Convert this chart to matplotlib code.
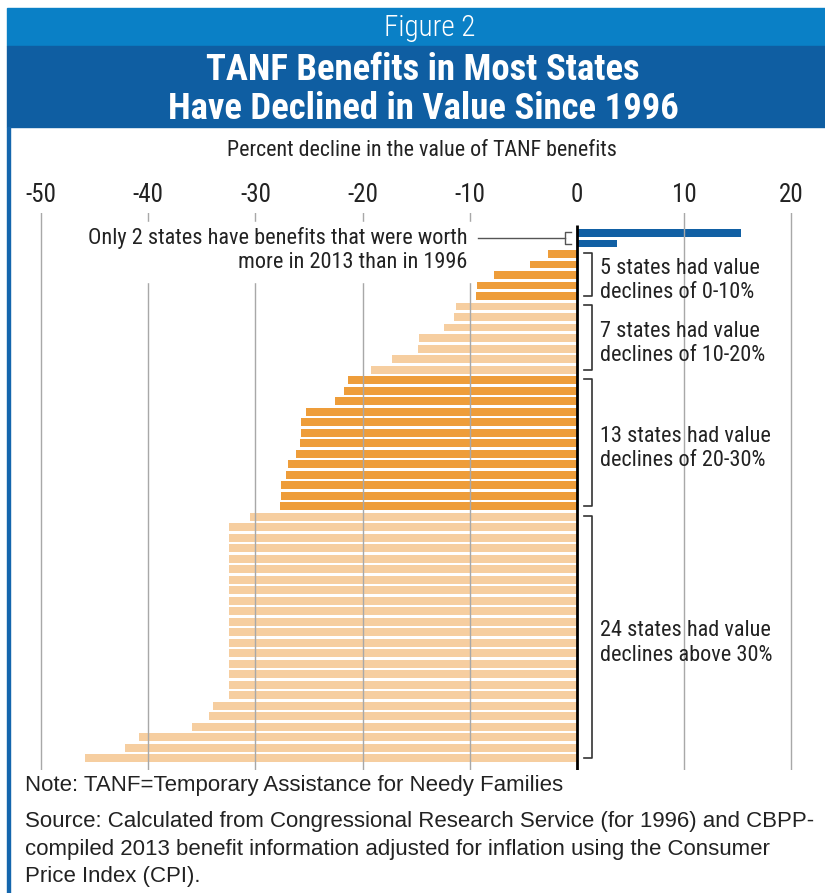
import matplotlib.pyplot as plt
from matplotlib import font_manager
from matplotlib.patches import Rectangle

# percent change in value of TANF benefits, 1996-2013 (one bar per state, sorted)
gains = [15.3, 3.7]
decl_0_10 = [-2.7, -4.4, -7.7, -9.3, -9.4]
decl_10_20 = [-11.3, -11.5, -12.4, -14.7, -14.8, -17.3, -19.2]
decl_20_30 = [-21.4, -21.7, -22.6, -25.3, -25.7, -25.7, -25.8, -26.2, -27.0, -27.1,
              -27.6, -27.6, -27.7]
decl_30_up = [-30.5] + [-32.5] * 17 + [-34.0, -34.3, -35.9, -40.9, -42.2, -45.9]

xticks = [-50, -40, -30, -20, -10, 0, 10, 20]
group_labels = ["5 states had value\ndeclines of 0-10%",
                "7 states had value\ndeclines of 10-20%",
                "13 states had value\ndeclines of 20-30%",
                "24 states had value\ndeclines above 30%"]

BLUE = "#1160a4"
ORANGE = "#ee9d3a"
LIGHT = "#f6cea0"
W, H = 825, 893

# look for a narrow face, the original uses a condensed sans
fonts = font_manager.fontManager.ttflist
names = {f.name for f in fonts}
if "Roboto Condensed" in names:
    COND = {"family": "Roboto Condensed"}
elif any(f.name == "DejaVu Sans" and "condensed" in str(f.stretch) for f in fonts):
    COND = {"family": "DejaVu Sans", "stretch": "condensed"}
else:
    COND = {"family": "Liberation Sans"}


def fx(px):
    return px / W


def fy(py):
    return 1 - py / H


def main():
    fig = plt.figure(figsize=(8.25, 8.93), dpi=100)

    # header bands and left border
    fig.patches.append(Rectangle((fx(7), fy(46)), fx(818), 38 / H, transform=fig.transFigure,
                                 color="#0a80c6", zorder=0))
    fig.patches.append(Rectangle((fx(7), fy(127)), fx(818), 81 / H, transform=fig.transFigure,
                                 color="#0f5ea2", zorder=0))
    fig.patches.append(Rectangle((fx(6.5), 0), 3 / W, fy(127), transform=fig.transFigure,
                                 color="#1466ad", zorder=0))
    fig.text(fx(430), fy(28), "Figure 2", color="white", fontsize=21, fontweight="light",
             **COND, ha="center", va="center")
    fig.text(fx(423), fy(89.5), "TANF Benefits in Most States\nHave Declined in Value Since 1996",
             color="white", fontsize=26.5, fontweight="bold", **COND,
             ha="center", va="center", linespacing=1.08)
    fig.text(fx(422), fy(151), "Percent decline in the value of TANF benefits",
             fontsize=15.8, **COND, ha="center", va="center", color="#222222")

    # axes: x from -52 to 22, 10.72 px per unit, zero at 577 px
    x0, x1 = -52, 22
    left = 577 + x0 * 10.72
    right = 577 + x1 * 10.72
    top, bottom = 213, 770
    ax = fig.add_axes([fx(left), fy(bottom), (right - left) / W, (bottom - top) / H])

    values = gains + decl_0_10 + decl_10_20 + decl_20_30 + decl_30_up
    colors = ([BLUE] * len(gains) + [ORANGE] * len(decl_0_10) + [LIGHT] * len(decl_10_20)
              + [ORANGE] * len(decl_20_30) + [LIGHT] * len(decl_30_up))
    rows = list(range(len(values)))
    ax.barh(rows, values, height=0.75, color=colors, zorder=2)

    n = len(values)
    ax.set_xlim(x0, x1)
    ax.set_ylim(n - 1 + 1.1, -1.9)
    for s in ax.spines.values():
        s.set_visible(False)
    ax.set_yticks([])
    ax.xaxis.tick_top()
    ax.set_xticks(xticks)
    ax.set_xticklabels([str(t) for t in xticks], **COND, fontsize=18, color="#222222")
    ax.tick_params(axis="x", length=0, pad=4)
    for t in xticks:
        if t != 0:
            ax.axvline(t, color="#a8a8a8", lw=1, zorder=2.5)
    ax.vlines(0, -0.75, n - 1 + 1.1, color="black", lw=2, zorder=5)

    # white box behind the "only 2 states" note
    ax.add_patch(Rectangle((-47, -1.05), 37.5, 5.75, color="white", zorder=3))
    ax.text(-10.2, 1.65, "Only 2 states have benefits that were worth\nmore in 2013 than in 1996",
            **COND, fontsize=16, ha="right", va="center", linespacing=1.18,
            color="#222222", zorder=4)
    ax.plot([-9.2, -1.1], [0.48, 0.48], color="#555555", lw=1, zorder=4)
    ax.plot([-0.55, -1.1, -1.1, -0.55], [-0.1, -0.1, 1.05, 1.05], color="#555555", lw=1, zorder=4)

    # brackets for each decline group
    sizes = [len(decl_0_10), len(decl_10_20), len(decl_20_30), len(decl_30_up)]
    start = len(gains)
    for size, label in zip(sizes, group_labels):
        a, b = start - 0.1, start + size - 1
        ax.plot([0.65, 1.4, 1.4, 0.65], [a, a, b, b], color="#333333", lw=1.2,
                clip_on=False, zorder=4)
        ax.text(2.1, (a + b) / 2 + 0.55, label, **COND, fontsize=16, ha="left",
                va="center", linespacing=1.22, color="#222222")
        start += size

    fig.text(fx(25), fy(786), "Note: TANF=Temporary Assistance for Needy Families",
             family="Liberation Sans", fontsize=16, ha="left", va="center", color="#222222")
    fig.text(fx(25), fy(849),
             "Source: Calculated from Congressional Research Service (for 1996) and CBPP-\n"
             "compiled 2013 benefit information adjusted for inflation using the Consumer\n"
             "Price Index (CPI).",
             family="Liberation Sans", fontsize=16, ha="left", va="center", linespacing=1.38,
             color="#222222")

    fig.savefig("out.png", dpi=100)


if __name__ == "__main__":
    main()
